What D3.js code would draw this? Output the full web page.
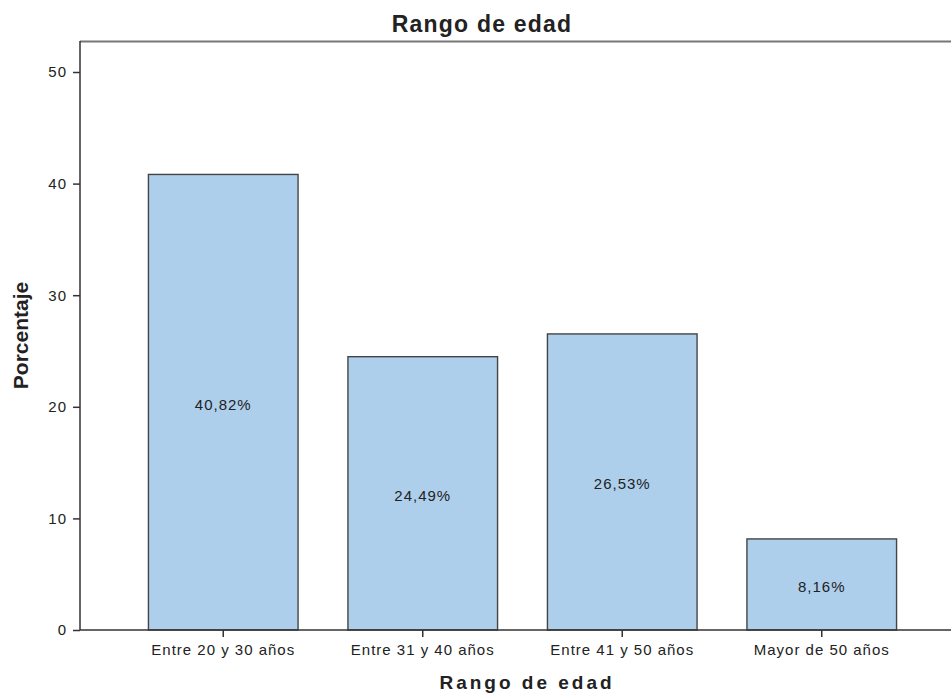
<!DOCTYPE html>
<html>
<head>
<meta charset="utf-8">
<script src="https://cdn.jsdelivr.net/npm/d3@7"></script>
<style>
  body { margin: 0; background: #fff; }
  svg { display: block; }
  text { font-family: "Liberation Sans", Arial, sans-serif; fill: #222; }
</style>
</head>
<body>
<svg id="chart" width="951" height="694"></svg>
<script>
// Age-range distribution (percent of respondents)
const categories = ["Entre 20 y 30 años", "Entre 31 y 40 años", "Entre 41 y 50 años", "Mayor de 50 años"];
const percentages = [40.82, 24.49, 26.53, 8.16];
const yTicks = [0, 10, 20, 30, 40, 50];
const chartTitle = "Rango de edad";
const xTitle = "Rango de edad";
const yTitle = "Porcentaje";

const svg = d3.select("#chart");
const plot = { left: 80, right: 951, top: 41, bottom: 630 };

const x = d3.scaleBand()
  .domain(categories)
  .range([123.5, 921.5])
  .paddingInner(0.25)
  .paddingOuter(0.125);

const y = d3.scaleLinear()
  .domain([0, 50])
  .range([plot.bottom, 72]);

// Frame top line
svg.append("line")
  .attr("x1", plot.left).attr("x2", plot.right)
  .attr("y1", plot.top + 0.5).attr("y2", plot.top + 0.5)
  .attr("stroke", "#777").attr("stroke-width", 2);

// Bars
svg.append("g").selectAll("rect")
  .data(percentages)
  .join("rect")
  .attr("x", (d, i) => x(categories[i]))
  .attr("width", x.bandwidth())
  .attr("y", d => y(d))
  .attr("height", d => y(0) - y(d))
  .attr("fill", "#aecfec")
  .attr("stroke", "#444")
  .attr("stroke-width", 1.4);

// Value labels in the middle of each bar
svg.append("g").selectAll("text")
  .data(percentages)
  .join("text")
  .attr("x", (d, i) => x(categories[i]) + x.bandwidth() / 2)
  .attr("y", d => (y(d) + y(0)) / 2 + 7.5)
  .attr("text-anchor", "middle")
  .attr("font-size", 15)
  .attr("letter-spacing", 1)
  .text(d => d.toFixed(2).replace(".", ",") + "%");

// Y axis
const yAxis = svg.append("g")
  .attr("transform", `translate(${plot.left},0)`)
  .call(d3.axisLeft(y).tickValues(yTicks).tickSize(7).tickPadding(6).tickSizeOuter(0));
yAxis.select(".domain").remove();
yAxis.append("line")
  .attr("x1", 0).attr("x2", 0)
  .attr("y1", plot.top).attr("y2", plot.bottom)
  .attr("stroke", "#333").attr("stroke-width", 1.5);
yAxis.selectAll(".tick line").attr("stroke", "#333").attr("stroke-width", 1.5);
yAxis.selectAll(".tick text").attr("font-size", 15).attr("fill", "#222")
  .attr("letter-spacing", 1)
  .style("font-family", "Liberation Sans, Arial, sans-serif");

// X axis
const xAxis = svg.append("g")
  .attr("transform", `translate(0,${plot.bottom})`)
  .call(d3.axisBottom(x).tickSize(7).tickPadding(7).tickSizeOuter(0));
xAxis.select(".domain").remove();
xAxis.append("line")
  .attr("x1", plot.left).attr("x2", plot.right)
  .attr("y1", 0).attr("y2", 0)
  .attr("stroke", "#333").attr("stroke-width", 1.5);
xAxis.selectAll(".tick line").attr("stroke", "#333").attr("stroke-width", 1.5);
xAxis.selectAll(".tick text").attr("font-size", 15).attr("fill", "#222")
  .attr("letter-spacing", 1)
  .style("font-family", "Liberation Sans, Arial, sans-serif");

// Titles
svg.append("text")
  .attr("x", 482).attr("y", 32)
  .attr("text-anchor", "middle")
  .attr("font-size", 23).attr("font-weight", "bold")
  .attr("letter-spacing", 1.2)
  .text(chartTitle);

svg.append("text")
  .attr("x", 527).attr("y", 689)
  .attr("text-anchor", "middle")
  .attr("font-size", 19).attr("font-weight", "bold")
  .attr("letter-spacing", 3)
  .text(xTitle);

svg.append("text")
  .attr("transform", `translate(28,${(plot.top + plot.bottom) / 2}) rotate(-90)`)
  .attr("text-anchor", "middle")
  .attr("font-size", 21).attr("font-weight", "bold")
  .text(yTitle);
</script>
</body>
</html>
